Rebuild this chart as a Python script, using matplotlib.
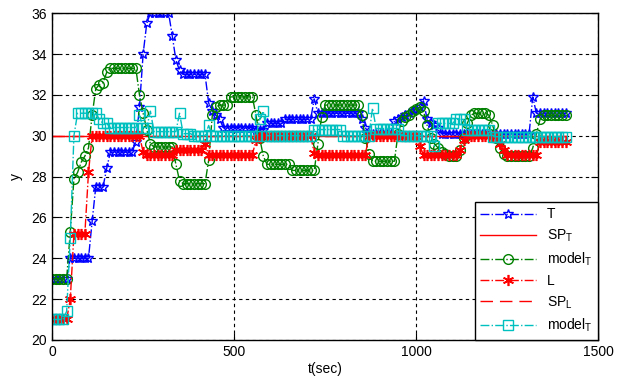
import numpy as np
import matplotlib
matplotlib.use('Agg')
import matplotlib.pyplot as plt

plt.rcParams['font.family'] = ['Liberation Sans', 'DejaVu Sans']
plt.rcParams['mathtext.default'] = 'regular'

# sample times, one every 10 s
t = np.arange(0, 1420, 10)

T = [23, 23, 23, 23, 23, 24, 24, 24, 24, 24,
     24, 25.8, 27.5, 27.5, 27.5, 28.4, 29.2, 29.2, 29.2, 29.2,
     29.2, 29.2, 29.2, 29.7, 31.4, 34, 35.5, 36, 36, 36,
     36, 36, 36, 34.9, 33.7, 33.2, 33, 33, 33, 33,
     33, 33, 33, 31.6, 31.2, 31.0, 30.8, 30.4, 30.4, 30.4,
     30.4, 30.4, 30.4, 30.4, 30.4, 30.4, 30.3, 30.3, 30.3, 30.6,
     30.6, 30.6, 30.6, 30.6, 30.8, 30.8, 30.8, 30.8, 30.8, 30.8,
     30.8, 30.8, 31.8, 31.1, 31.1, 31.1, 31.1, 31.1, 31.1, 31.1,
     31.1, 31.1, 31.1, 31.1, 31.1, 30.8, 30.4, 30.1, 30.1, 30.1,
     30.1, 30.1, 30.1, 30.1, 30.7, 30.8, 30.9, 31.0, 31.1, 31.2,
     31.3, 31.4, 31.7, 30.8, 30.6, 30.5, 30.4, 30.1, 30.1, 30.1,
     30.1, 30.1, 30.1, 30.1, 30.1, 30.1, 30.1, 30.1, 30.1, 30.1,
     30.1, 30.1, 30.1, 30.1, 30.1, 30.1, 30.1, 30.1, 30.1, 30.1,
     30.1, 30.1, 31.9, 31.1, 31.1, 31.1, 31.1, 31.1, 31.1, 31.1,
     31.1, 31.1]

model_T = [23, 23, 23, 23, 23, 25.3, 27.9, 28.2, 28.7, 29.0,
           29.4, 31.0, 32.3, 32.5, 32.6, 33.1, 33.3, 33.3, 33.3, 33.3,
           33.3, 33.3, 33.3, 33.3, 32.0, 31.1, 30.3, 29.6, 29.45, 29.45,
           29.45, 29.45, 29.45, 29.45, 28.6, 27.8, 27.65, 27.65, 27.65, 27.65,
           27.65, 27.65, 27.65, 28.8, 31.0, 31.4, 31.5, 31.5, 31.5, 31.9,
           31.9, 31.9, 31.9, 31.9, 31.9, 31.9, 31.0, 29.9, 29.0, 28.6,
           28.6, 28.6, 28.6, 28.6, 28.6, 28.6, 28.3, 28.3, 28.3, 28.3,
           28.3, 28.3, 28.3, 29.6, 30.9, 31.5, 31.5, 31.5, 31.5, 31.5,
           31.5, 31.5, 31.5, 31.5, 31.5, 31.0, 29.9, 29.1, 28.75, 28.75,
           28.75, 28.75, 28.75, 28.75, 28.75, 30.1, 30.7, 30.9, 31.0, 31.2,
           31.3, 31.4, 31.2, 30.5, 29.9, 29.6, 29.4, 29.2, 29.1, 29.0,
           29.0, 29.0, 29.3, 29.9, 30.6, 31.0, 31.1, 31.1, 31.1, 31.1,
           31.0, 30.5, 29.9, 29.4, 29.1, 29.0, 29.0, 29.0, 29.0, 29.0,
           29.0, 29.0, 29.4, 30.1, 30.8, 31.0, 31.0, 31.0, 31.0, 31.0,
           31.0, 31.0]

L = [21, 21, 21, 21, 21, 22.0, 25.2, 25.2, 25.2, 25.2,
     28.2, 30, 30, 30, 30, 30, 30, 30, 30, 30,
     30, 30, 30, 30, 30, 29.2, 29.05, 29.05, 29.05, 29.05,
     29.05, 29.05, 29.05, 29.05, 29.3, 29.3, 29.3, 29.3, 29.3, 29.3,
     29.3, 29.3, 29.6, 29.05, 29.05, 29.05, 29.05, 29.05, 29.05, 29.05,
     29.05, 29.05, 29.05, 29.05, 29.05, 29.05, 29.8, 30, 30, 30,
     30, 30, 30, 30, 30, 30, 30, 30, 30, 30,
     30, 30, 29.15, 29.05, 29.05, 29.05, 29.05, 29.05, 29.05, 29.05,
     29.05, 29.05, 29.05, 29.05, 29.05, 29.05, 29.05, 30, 30, 30,
     30, 30, 30, 30, 30, 30, 30, 30, 30, 30,
     30, 29.5, 29.05, 29.05, 29.05, 29.05, 29.05, 29.05, 29.05, 29.05,
     29.05, 29.05, 29.3, 29.8, 30, 30, 30, 30, 30, 30,
     30, 30, 30, 29.6, 29.3, 29.05, 29.05, 29.05, 29.05, 29.05,
     29.05, 29.05, 29.05, 29.05, 29.7, 29.7, 29.7, 29.7, 29.7, 29.7,
     29.7, 29.7]

model_L = [21, 21, 21, 21, 21.4, 25.0, 30.0, 31.1, 31.1, 31.1,
           31.1, 31.1, 31.1, 30.8, 30.6, 30.6, 30.4, 30.4, 30.4, 30.4,
           30.4, 30.4, 30.4, 30.4, 31.0, 30.4, 30.4, 31.2, 30.2, 30.2,
           30.2, 30.2, 30.2, 30.2, 30.2, 31.1, 30.1, 30.1, 30.1, 30.0,
           30.0, 30.0, 30.0, 30.5, 30.0, 30.0, 30.0, 30.0, 30.0, 30.0,
           30.0, 30.0, 30.0, 30.0, 30.0, 30.0, 30.0, 30.8, 31.2, 30.0,
           30.0, 30.0, 30.0, 30.0, 30.0, 30.0, 30.0, 30.0, 30.0, 30.0,
           30.0, 30.0, 30.3, 30.3, 30.3, 30.3, 30.3, 30.3, 30.3, 30.3,
           30.0, 30.0, 30.0, 30.0, 30.0, 30.0, 30.0, 30.0, 31.35, 30.35,
           30.35, 30.35, 30.35, 30.35, 30.35, 30.35, 30.0, 30.0, 30.0, 30.0,
           30.0, 30.0, 30.0, 30.0, 30.0, 29.5, 30.6, 30.6, 30.6, 30.6,
           30.6, 30.8, 30.8, 30.8, 30.3, 30.3, 30.3, 30.3, 30.3, 30.3,
           30.3, 29.95, 29.95, 29.95, 29.95, 29.95, 29.95, 29.95, 29.95, 29.95,
           29.95, 29.95, 29.95, 29.95, 29.95, 29.95, 29.95, 29.95, 29.95, 29.95,
           29.95, 29.95]

SP_T = [30] * len(t)
SP_L = [30] * len(t)

x_ticks = [0, 500, 1000, 1500]
y_ticks = [20, 22, 24, 26, 28, 30, 32, 34, 36]


def main():
    fig = plt.figure(figsize=(6.2, 3.76), dpi=100)
    ax = fig.add_axes([0.084, 0.096, 0.881, 0.869])

    ax.plot(t, T, color='#0000ff', ls='-.', lw=1, marker='*', ms=7.5,
            mfc='none', mec='#0000ff', mew=1, label='T')
    ax.plot(t, SP_T, color='#ff0000', ls='-', lw=1, label='SP$_T$')
    ax.plot(t, model_T, color='#008000', ls='-.', lw=1, marker='o', ms=7,
            mfc='none', mec='#008000', mew=1, label='model$_T$')
    ax.plot(t, L, color='#ff0000', ls='-.', lw=1, marker=(6, 2, 0), ms=8,
            mew=1.2, label='L')
    ax.plot(t, SP_L, color='#ff0000', ls='--', lw=1, dashes=(9, 5), label='SP$_L$')
    ax.plot(t, model_L, color='#00bfbf', ls='-.', lw=1, marker='s', ms=7,
            mfc='none', mec='#00bfbf', mew=1, label='model$_T$')

    ax.set_xlim(0, 1500)
    ax.set_ylim(20, 36)
    ax.set_xticks(x_ticks)
    ax.set_yticks(y_ticks)
    ax.tick_params(direction='in', top=True, right=True, labelsize=10, length=5)
    ax.grid(True, color='black', ls=(0, (3, 3)), lw=0.8)
    for s in ax.spines.values():
        s.set_linewidth(1)

    ax.set_xlabel('t(sec)', fontsize=10, labelpad=2)
    ax.set_ylabel('y', fontsize=10, labelpad=6)

    leg = ax.legend(loc='lower right', fontsize=10, handlelength=4.0,
                    borderaxespad=0, fancybox=False, framealpha=1,
                    edgecolor='black', labelspacing=0.45)
    leg.get_frame().set_linewidth(1)

    fig.savefig('out.png', dpi=100)
    plt.close(fig)


if __name__ == '__main__':
    main()
